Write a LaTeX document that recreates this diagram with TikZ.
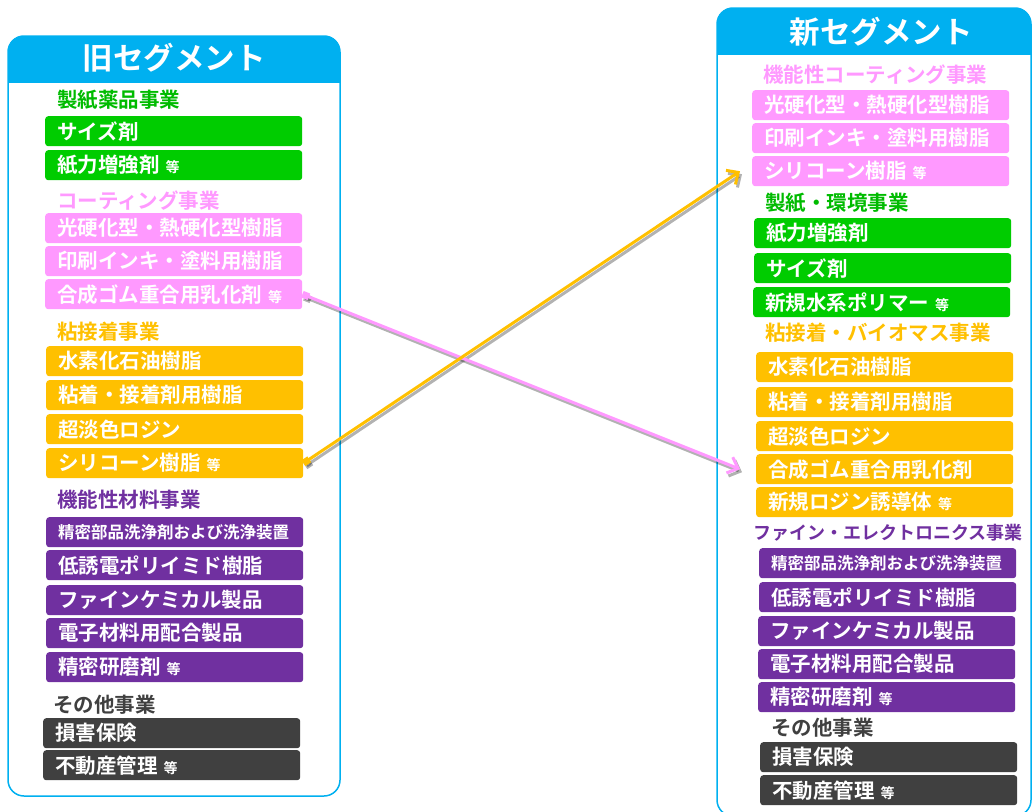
\documentclass[tikz,border=0pt]{standalone}
\usepackage{fontspec}
\setmainfont{Noto Sans CJK JP}[BoldFont={Noto Sans CJK JP Bold}]
\usetikzlibrary{arrows.meta, positioning}

\definecolor{segcyan}{HTML}{00B0F0}
\definecolor{bizgreen}{HTML}{00CC00}
\definecolor{bizgreentext}{HTML}{00BB00}
\definecolor{bizpink}{HTML}{FF99FF}
\definecolor{bizorange}{HTML}{FFC000}
\definecolor{bizpurple}{HTML}{7030A0}
\definecolor{bizgray}{HTML}{404040}

\newcommand{\tou}{\hspace{6pt}{\fontsize{14}{14}\selectfont 等}}

\begin{document}
\begin{tikzpicture}[x=1pt, y=-1pt,
      panel/.style={draw=segcyan, line width=1.5pt, fill=white, rounded corners=16pt},
      title/.style={text=white, inner sep=0pt, font=\fontsize{30.5}{30.5}\selectfont\bfseries},
      bizlabel/.style={anchor=west, inner sep=0pt, font=\fontsize{20.5}{20.5}\selectfont\bfseries},
      item/.style={anchor=north west, rounded corners=3pt, minimum height=30pt, inner xsep=12pt, inner ysep=0pt,
        text width=233pt, align=left, text=white, font=\fontsize{20.5}{20.5}\selectfont\bfseries},
      smallitem/.style={font=\fontsize{16.5}{16.5}\selectfont\bfseries},
      greenitem/.style={item, fill=bizgreen},
      pinkitem/.style={item, fill=bizpink},
      orangeitem/.style={item, fill=bizorange},
      purpleitem/.style={item, fill=bizpurple},
      grayitem/.style={item, fill=bizgray},
      move/.style={line width=3pt, {Square[length=7pt,width=7pt]}-{Straight Barb[length=9pt,width=17pt]}},
      moveshadow/.style={move, draw=black, opacity=0.3}
    ]

    \useasboundingbox (0,0) rectangle (1033,811);

    % Draw segment panels
    \draw[panel] (8,36) rectangle (340,796);
    \begin{scope}
      \clip[rounded corners=16pt] (8,36) rectangle (340,796);
      \fill[segcyan] (8,36) rectangle (340,83);
    \end{scope}
    \node[title] (oldTitle) at (174,58) {旧セグメント};

    \draw[panel] (717,8) rectangle (1031,816);
    \begin{scope}
      \clip[rounded corners=16pt] (717,8) rectangle (1031,816);
      \fill[segcyan] (717,8) rectangle (1031,55);
    \end{scope}
    \node[title] (newTitle) at (881,32) {新セグメント};

    % Old segment
    \node[bizlabel, text=bizgreentext] (oPaper) at (57,100) {製紙薬品事業};
    \node[greenitem] (oSize) at (45,116) {サイズ剤};
    \node[greenitem] (oStrength) at (45,150) {紙力増強剤\tou};

    \node[bizlabel, text=bizpink] (oCoat) at (57,201) {コーティング事業};
    \node[pinkitem] (oCure) at (45,213) {光硬化型・熱硬化型樹脂};
    \node[pinkitem] (oInk) at (45,246) {印刷インキ・塗料用樹脂};
    \node[pinkitem] (oRubber) at (45,279) {合成ゴム重合用乳化剤\tou};

    \node[bizlabel, text=bizorange] (oAdh) at (57,332) {粘接着事業};
    \node[orangeitem] (oHydro) at (46,346) {水素化石油樹脂};
    \node[orangeitem] (oTack) at (46,380) {粘着・接着剤用樹脂};
    \node[orangeitem] (oRosin) at (46,414) {超淡色ロジン};
    \node[orangeitem] (oSilicone) at (46,448) {シリコーン樹脂\tou};

    \node[bizlabel, text=bizpurple] (oFunc) at (57,500) {機能性材料事業};
    \node[purpleitem, smallitem] (oClean) at (46,517) {精密部品洗浄剤および洗浄装置};
    \node[purpleitem] (oPoly) at (46,550) {低誘電ポリイミド樹脂};
    \node[purpleitem] (oFine) at (46,585) {ファインケミカル製品};
    \node[purpleitem] (oElec) at (46,618) {電子材料用配合製品};
    \node[purpleitem] (oPolish) at (46,652) {精密研磨剤\tou};

    \node[bizlabel, text=bizgray] (oOther) at (53,705) {その他事業};
    \node[grayitem] (oIns) at (43,718) {損害保険};
    \node[grayitem] (oEstate) at (43,750) {不動産管理\tou};

    % New segment
    \node[bizlabel, text=bizpink] (nCoat) at (763,75) {機能性コーティング事業};
    \node[pinkitem] (nCure) at (752,90) {光硬化型・熱硬化型樹脂};
    \node[pinkitem] (nInk) at (752,123) {印刷インキ・塗料用樹脂};
    \node[pinkitem] (nSilicone) at (752,156) {シリコーン樹脂\tou};

    \node[bizlabel, text=bizgreentext] (nPaper) at (765,203) {製紙・環境事業};
    \node[greenitem] (nStrength) at (754,218) {紙力増強剤};
    \node[greenitem] (nSize) at (754,253) {サイズ剤};
    \node[greenitem] (nWater) at (753,287) {新規水系ポリマー\tou};

    \node[bizlabel, text=bizorange] (nAdh) at (765,333) {粘接着・バイオマス事業};
    \node[orangeitem] (nHydro) at (756,352) {水素化石油樹脂};
    \node[orangeitem] (nTack) at (756,387) {粘着・接着剤用樹脂};
    \node[orangeitem] (nRosin) at (756,421) {超淡色ロジン};
    \node[orangeitem] (nRubber) at (756,454) {合成ゴム重合用乳化剤};
    \node[orangeitem] (nDeriv) at (756,487) {新規ロジン誘導体\tou};

    \node[bizlabel, text=bizpurple, font=\fontsize{18}{18}\selectfont\bfseries] (nElecBiz) at (753,533) {ファイン・エレクトロニクス事業};
    \node[purpleitem, smallitem] (nClean) at (759,548) {精密部品洗浄剤および洗浄装置};
    \node[purpleitem] (nPoly) at (759,582) {低誘電ポリイミド樹脂};
    \node[purpleitem] (nFine) at (758,616) {ファインケミカル製品};
    \node[purpleitem] (nElec) at (758,649) {電子材料用配合製品};
    \node[purpleitem] (nPolish) at (758,682) {精密研磨剤\tou};

    \node[bizlabel, text=bizgray] (nOther) at (771,728) {その他事業};
    \node[grayitem] (nIns) at (760,742) {損害保険};
    \node[grayitem] (nEstate) at (760,775) {不動産管理\tou};

    % Draw moves between segments
    \begin{scope}[transform canvas={shift={(2pt,-3pt)}}]
      \draw[moveshadow] (oRubber.east) -- ([xshift=-16pt]nRubber.west);
      \draw[moveshadow] (oSilicone.east) -- ([xshift=-12pt]nSilicone.west);
    \end{scope}
    \draw[move, draw=bizpink] (oRubber.east) -- ([xshift=-16pt]nRubber.west);
    \draw[move, draw=bizorange] (oSilicone.east) -- ([xshift=-12pt]nSilicone.west);

  \end{tikzpicture}
\end{document}
